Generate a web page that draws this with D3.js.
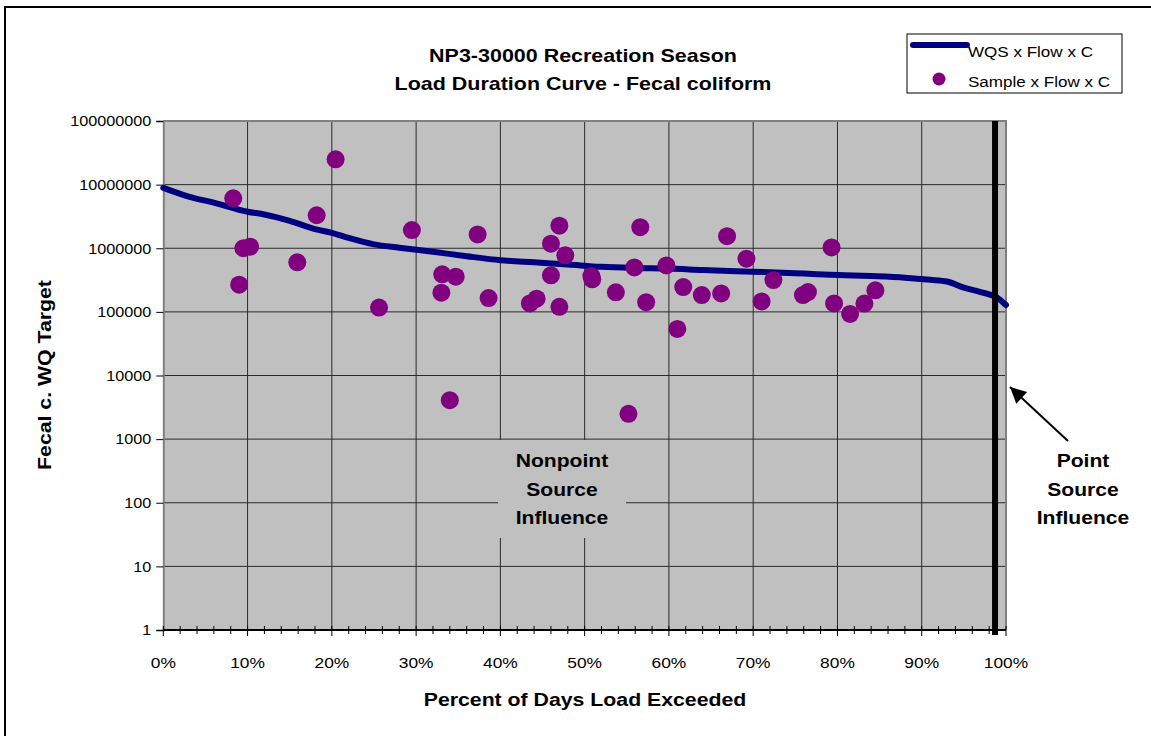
<!DOCTYPE html>
<html><head><meta charset="utf-8">
<script src="https://cdn.jsdelivr.net/npm/d3@7"></script>
<style>
body{margin:0;background:#fff;}
svg{display:block;font-family:Arial,"Liberation Sans",sans-serif;}
</style></head>
<body>
<svg id="c" width="1151" height="736"></svg>
<script>
// ---- data ----
const titleLines = ["NP3-30000 Recreation Season", "Load Duration Curve - Fecal coliform"];
const xTickValues = [0,10,20,30,40,50,60,70,80,90,100];
const xTickLabels = ["0%","10%","20%","30%","40%","50%","60%","70%","80%","90%","100%"];
const yTickValues = [1,10,100,1000,10000,100000,1000000,10000000,100000000];
const seriesNames = ["WQS x Flow x C", "Sample x Flow x C"];
// WQS x Flow x C curve (percent of days exceeded, load)
const curvePct = [0,3,6,10,12,15,18,20,22,25,28,32,36,40,44,48,52,56,60,64,68,72,76,80,84,88,91,93,95,97,99,100];
const curveLoad = [8900000,6500000,5200000,3750000,3400000,2700000,2000000,1750000,1450000,1150000,1020000,880000,750000,650000,600000,555000,510000,490000,480000,455000,435000,420000,400000,380000,365000,345000,320000,300000,240000,205000,165000,128000];
// Sample x Flow x C points
const samplePct = [8.3,9.0,9.5,10.3,15.9,18.2,20.45,25.6,29.5,33.1,33.0,34.0,34.7,37.3,38.6,43.5,44.3,46.0,46.0,47.0,47.7,47.0,50.8,50.9,53.7,55.2,55.9,56.6,57.3,59.7,61.0,61.7,63.9,66.2,66.9,69.2,71.0,72.4,75.9,76.5,79.3,79.6,81.5,83.2,84.5];
const sampleLoad = [6100000,267000,1000000,1060000,600000,3300000,25000000,117000,1930000,390000,200000,4100,357000,1650000,165000,136000,161000,1180000,375000,2260000,773000,120000,366000,325000,203000,2500,500000,2140000,142000,538000,54000,245000,184000,195000,1550000,684000,146000,316000,184000,205000,1030000,136000,93000,135000,218000];
const boundaryPct = 98.7;
const xTitle = "Percent of Days Load Exceeded";
const yTitle = "Fecal c. WQ Target";
const nonpointLines = ["Nonpoint","Source","Influence"];
const pointLines = ["Point","Source","Influence"];

// ---- layout ----
const svg = d3.select("#c");
const L = 163.3, R = 1006, T = 121, B = 630;
const x = d3.scaleLinear().domain([0,100]).range([L,R]);
const y = d3.scaleLog().domain([1,1e8]).range([B,T]);

// helper: horizontally stretched text
function txt(g, s, tx, ty, size, bold, anchor, sx, rot) {
  return g.append("text")
    .attr("transform", `translate(${tx},${ty})` + (rot ? ` rotate(${rot})` : "") + ` scale(${sx},1)`)
    .attr("text-anchor", anchor).attr("font-size", size)
    .attr("font-weight", bold ? "bold" : "normal").attr("fill","#000").text(s);
}

// outer border (only top/left visible)
svg.append("rect").attr("x",5).attr("y",7).attr("width",1200).attr("height",800)
  .attr("fill","none").attr("stroke","#000").attr("stroke-width",2);

// plot background
svg.append("rect").attr("x",L).attr("y",T).attr("width",R-L).attr("height",B-T).attr("fill","#c0c0c0");

// gridlines
const grid = svg.append("g");
grid.selectAll("line.h").data(yTickValues.slice(1)).join("line")
  .attr("x1",L).attr("x2",R).attr("y1",d=>y(d)).attr("y2",d=>y(d))
  .attr("stroke","#2a2a2a").attr("stroke-width",1);
grid.selectAll("line.v").data(xTickValues.slice(1,-1)).join("line")
  .attr("x1",d=>x(d)).attr("x2",d=>x(d)).attr("y1",T).attr("y2",B)
  .attr("stroke","#2a2a2a").attr("stroke-width",1);

// plot border (top/right gray)
svg.append("path").attr("d",`M${L},${T}H${R}V${B}`).attr("fill","none").attr("stroke","#808080").attr("stroke-width",2);

// Nonpoint annotation box (covers gridlines)
svg.append("rect").attr("x",498).attr("y",440).attr("width",128).attr("height",98).attr("fill","#c0c0c0");
const np = svg.append("g");
nonpointLines.forEach((s,i)=>txt(np, s, 562, 467+i*28.5, 18.5, true, "middle", 1.14));

// y axis
const yAxis = d3.axisLeft(y).tickValues(yTickValues).tickFormat(d=>String(d)).tickSize(7).tickPadding(5);
const gy = svg.append("g").attr("transform",`translate(${L},0)`).call(yAxis);
gy.select(".domain").attr("stroke","#808080").attr("stroke-width",2);
gy.selectAll(".tick line").attr("stroke","#000");
gy.selectAll(".tick text").attr("font-size",15).attr("fill","#000")
  .attr("font-family","Arial,'Liberation Sans',sans-serif")
  .attr("transform","translate(-12,0) scale(1.08,1) translate(12,0)");

// x axis (cross ticks)
const gx = svg.append("g");
gx.append("line").attr("x1",L).attr("x2",R).attr("y1",B).attr("y2",B).attr("stroke","#000").attr("stroke-width",2);
const minor = d3.range(0,101,2).filter(v=>v%10!==0);
gx.selectAll("line.mi").data(minor).join("line").attr("class","mi")
  .attr("x1",d=>x(d)).attr("x2",d=>x(d)).attr("y1",B-4).attr("y2",B+4).attr("stroke","#000");
gx.selectAll("line.ma").data(xTickValues).join("line").attr("class","ma")
  .attr("x1",d=>x(d)).attr("x2",d=>x(d)).attr("y1",B-4).attr("y2",B+6).attr("stroke","#000");
xTickValues.forEach((v,i)=>txt(gx, xTickLabels[i], x(v), 668, 15.5, false, "middle", 1.12));

// curve
const line = d3.line().x((d,i)=>x(curvePct[i])).y(d=>y(d)).curve(d3.curveMonotoneX);
svg.append("path").datum(curveLoad).attr("d",line).attr("fill","none")
  .attr("stroke","#000080").attr("stroke-width",6).attr("stroke-linecap","round").attr("stroke-linejoin","round");

// points
svg.append("g").selectAll("circle").data(sampleLoad).join("circle")
  .attr("cx",(d,i)=>x(samplePct[i])).attr("cy",d=>y(d)).attr("r",9).attr("fill","#800080");

// boundary line
svg.append("line").attr("x1",x(boundaryPct)).attr("x2",x(boundaryPct)).attr("y1",T).attr("y2",B+5)
  .attr("stroke","#000").attr("stroke-width",6);

// titles
const tg = svg.append("g");
titleLines.forEach((s,i)=>txt(tg, s, 583, 62+i*27.5, 19, true, "middle", 1.13));
txt(svg, xTitle, 585, 706, 19, true, "middle", 1.12);
txt(svg, yTitle, 51, 375, 19, true, "middle", 1.12, -90);

// point source annotation
const pg = svg.append("g");
pointLines.forEach((s,i)=>txt(pg, s, 1083, 467+i*28.5, 18.5, true, "middle", 1.14));
svg.append("defs").append("marker").attr("id","ah").attr("viewBox","0 0 10 10")
  .attr("refX",10).attr("refY",5).attr("markerWidth",10).attr("markerHeight",8)
  .attr("markerUnits","strokeWidth").attr("orient","auto")
  .append("path").attr("d","M0,0L10,5L0,10z").attr("fill","#000");
svg.append("line").attr("x1",1068).attr("y1",441).attr("x2",1010).attr("y2",387)
  .attr("stroke","#000").attr("stroke-width",2).attr("marker-end","url(#ah)");

// legend
const lg = svg.append("g");
lg.append("rect").attr("x",907).attr("y",34).attr("width",215).attr("height",59)
  .attr("fill","#fff").attr("stroke","#000").attr("stroke-width",1);
lg.append("line").attr("x1",913).attr("x2",967).attr("y1",45).attr("y2",45)
  .attr("stroke","#000080").attr("stroke-width",6).attr("stroke-linecap","round");
lg.append("circle").attr("cx",939).attr("cy",79).attr("r",6.5).attr("fill","#800080");
seriesNames.forEach((s,i)=>txt(lg, s, 968, 57+i*30, 15.5, false, "start", 1.1));
</script>
</body></html>
